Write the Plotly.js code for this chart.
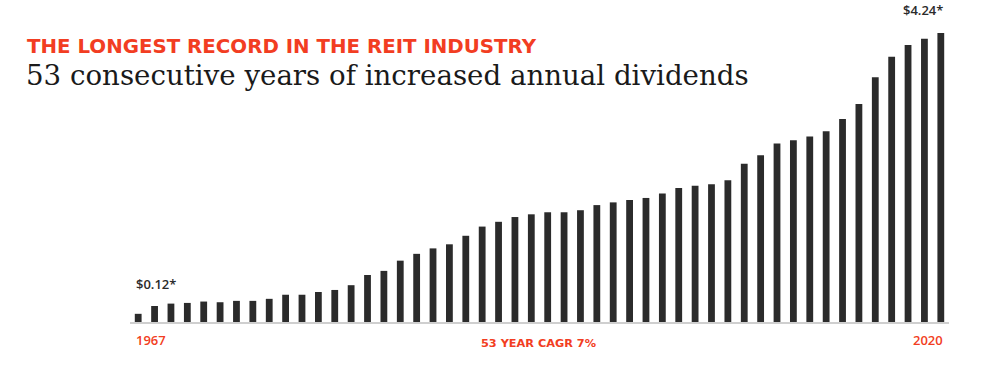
<!DOCTYPE html>
<html>
<head>
<meta charset="utf-8">
<script src="https://cdn.plot.ly/plotly-3.0.1.min.js"></script>
<style>html,body{margin:0;padding:0;background:#fff;}#chart{width:981px;height:366px;}</style>
</head>
<body>
<div id="chart"></div>
<script>
// Bar index (one bar per drawn column)
const barIndex = [1,2,3,4,5,6,7,8,9,10,11,12,13,14,15,16,17,18,19,20,21,22,23,24,25,26,27,28,29,30,31,32,33,34,35,36,37,38,39,40,41,42,43,44,45,46,47,48,49,50];
// Annual dividend per share ($)
const dividends = [0.12,0.235,0.27,0.28,0.30,0.29,0.31,0.31,0.34,0.40,0.40,0.44,0.47,0.54,0.69,0.75,0.90,1.00,1.08,1.14,1.265,1.40,1.47,1.54,1.58,1.61,1.61,1.64,1.715,1.755,1.79,1.82,1.885,1.965,2.00,2.02,2.08,2.32,2.445,2.62,2.665,2.72,2.80,2.98,3.20,3.59,3.89,4.065,4.155,4.24];
const tickVals = [1, 50];
const tickText = ['1967', '2020'];
const firstLabel = '$0.12*';
const lastLabel = '$4.24*';
const kicker = 'THE LONGEST RECORD IN THE REIT INDUSTRY';
const headline = '53 consecutive years of increased annual dividends';
const cagrText = '53 YEAR CAGR 7%';

const red = '#f23d22';
const trace = {
  type: 'bar', x: barIndex, y: dividends,
  marker: {color: '#2b2b2b', line: {width: 0}},
  hoverinfo: 'skip'
};
const layout = {
  width: 981, height: 366,
  margin: {l: 130, r: 32, t: 33, b: 44},
  paper_bgcolor: '#fff', plot_bgcolor: '#fff',
  bargap: 0.585,
  showlegend: false,
  xaxis: {
    range: [0.5, 50.5], showgrid: false, zeroline: false,
    showline: true, linecolor: '#cfcfcf', linewidth: 1.5,
    tickvals: tickVals, ticktext: tickText, ticks: '',
    showticklabels: false, fixedrange: true
  },
  yaxis: {range: [0, 4.24], visible: false, fixedrange: true},
  annotations: [
    {xref: 'paper', yref: 'paper', x: -0.128, y: 1.0, yshift: -13, xanchor: 'left', yanchor: 'middle',
     text: kicker, showarrow: false, font: {family: 'DejaVu Sans', size: 19.8, color: red, weight: 'bold'}},
    {xref: 'paper', yref: 'paper', x: -0.129, y: 1.0, yshift: -42, xanchor: 'left', yanchor: 'middle',
     text: headline, showarrow: false, font: {family: 'DejaVu Serif', size: 27.65, color: '#1a1a1a'}},
    {xref: 'x', yref: 'y', x: barIndex[0], y: dividends[0], xshift: -4, yshift: 30, xanchor: 'left', yanchor: 'middle',
     text: firstLabel, showarrow: false, font: {family: 'Open Sans', size: 13, color: '#2b2b2b', weight: 600}},
    {xref: 'x', yref: 'y', x: barIndex[barIndex.length-1], y: dividends[dividends.length-1], xshift: 4, yshift: 23, xanchor: 'right', yanchor: 'middle',
     text: lastLabel, showarrow: false, font: {family: 'Open Sans', size: 13, color: '#2b2b2b', weight: 600}},
    {xref: 'x', yref: 'paper', x: tickVals[0], y: 0, xshift: -4, yshift: -18, xanchor: 'left', yanchor: 'middle',
     text: tickText[0], showarrow: false, font: {family: 'Open Sans', size: 13, color: red, weight: 600}},
    {xref: 'x', yref: 'paper', x: tickVals[1], y: 0, xshift: 4, yshift: -18, xanchor: 'right', yanchor: 'middle',
     text: tickText[1], showarrow: false, font: {family: 'Open Sans', size: 13, color: red, weight: 600}},
    {xref: 'paper', yref: 'paper', x: (538-130)/819, y: 0, yshift: -21, xanchor: 'center', yanchor: 'middle',
     text: cagrText, showarrow: false, font: {family: 'DejaVu Sans', size: 11.3, color: red, weight: 'bold'}}
  ]
};
Plotly.newPlot('chart', [trace], layout, {staticPlot: true, displayModeBar: false});
</script>
</body>
</html>
